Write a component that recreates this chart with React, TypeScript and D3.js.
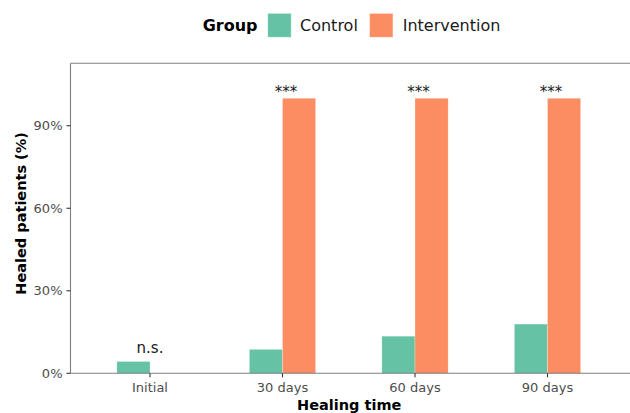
import React from "react";
import * as d3 from "d3";

// Healing data: share of healed patients per group at each time point
const categories = ["Initial", "30 days", "60 days", "90 days"];
const groups = ["Control", "Intervention"];
const controlValues = [4.3, 8.7, 13.5, 17.9];
const interventionValues = [0, 100, 100, 100];
const significanceLabels = ["n.s.", "***", "***", "***"];
const significanceY = [7.3, 100.6, 100.6, 100.6];
const yTicks = [0, 30, 60, 90];

const W = 630;
const H = 413;
const FONT = "'DejaVu Sans', sans-serif";
const colors: Record<string, string> = { Control: "#66C2A5", Intervention: "#FC8D62" };

export default function App() {
  const panel = { left: 70.5, right: 632, top: 63.3, bottom: 373.3 };

  const x = d3.scalePoint<string>().domain(categories).range([150, 547.5]);
  const step = x.step();
  const barW = step * 0.25;
  const y = d3.scaleLinear().domain([0, 112.7]).range([panel.bottom, panel.top]);

  const series = [controlValues, interventionValues];

  return (
    <div style={{ position: "fixed", left: 0, top: 0, width: W, height: H, overflow: "hidden" }}>
      <svg width={W} height={H} style={{ display: "block", background: "#fff" }} fontFamily={FONT}>
        {/* legend */}
        <g>
          <text x={202.7} y={31} fontSize={16} fontWeight="bold" fill="#000">Group</text>
          <rect x={267.7} y={13.3} width={23.5} height={24} fill={colors.Control} stroke="#fff" strokeOpacity={0.6} strokeWidth={0.8} />
          <text x={300} y={31} fontSize={16} fill="#1a1a1a">Control</text>
          <rect x={369.5} y={13.3} width={23.5} height={24} fill={colors.Intervention} stroke="#fff" strokeOpacity={0.6} strokeWidth={0.8} />
          <text x={402.7} y={31} fontSize={16} fill="#1a1a1a">Intervention</text>
        </g>

        {/* bars */}
        {categories.map((c, i) =>
          groups.map((g, j) => {
            const v = series[j][i];
            if (v <= 0) return null;
            const bx = (x(c) as number) - barW + j * barW;
            return (
              <rect
                key={c + g}
                x={bx}
                y={y(v)}
                width={barW}
                height={y(0) - y(v)}
                fill={colors[g]}
                stroke="#fff"
                strokeOpacity={0.5}
                strokeWidth={0.5}
              />
            );
          })
        )}

        {/* significance labels */}
        {categories.map((c, i) => (
          <text
            key={"sig" + c}
            x={(x(c) as number) + (i === 0 ? 0 : 3.5)}
            y={y(significanceY[i])}
            fontSize={15}
            textAnchor="middle"
            fill="#1a1a1a"
          >
            {significanceLabels[i]}
          </text>
        ))}

        {/* panel lines */}
        <line x1={panel.left} x2={panel.right} y1={panel.top} y2={panel.top} stroke="#7f7f7f" strokeWidth={1.1} />
        <line x1={panel.left} x2={panel.left} y1={panel.top} y2={panel.bottom} stroke="#7f7f7f" strokeWidth={1.1} />
        <line x1={panel.left} x2={panel.right} y1={panel.bottom} y2={panel.bottom} stroke="#7f7f7f" strokeWidth={1.1} />

        {/* y axis */}
        {yTicks.map((t) => (
          <g key={"y" + t}>
            <line x1={panel.left - 4} x2={panel.left} y1={y(t)} y2={y(t)} stroke="#333" strokeWidth={1.1} />
            <text x={panel.left - 8} y={y(t)} dy="0.36em" fontSize={13} textAnchor="end" fill="#4d4d4d">
              {t}%
            </text>
          </g>
        ))}

        {/* x axis */}
        {categories.map((c) => (
          <g key={"x" + c}>
            <line x1={x(c)} x2={x(c)} y1={panel.bottom} y2={panel.bottom + 4} stroke="#333" strokeWidth={1.1} />
            <text x={x(c)} y={391.5} fontSize={13} textAnchor="middle" fill="#4d4d4d">
              {c}
            </text>
          </g>
        ))}

        {/* axis titles */}
        <text x={349.2} y={409.5} fontSize={14.5} fontWeight="bold" textAnchor="middle" fill="#000">
          Healing time
        </text>
        <text
          transform={`translate(25.5, 213.4) rotate(-90)`}
          fontSize={14.5}
          fontWeight="bold"
          textAnchor="middle"
          fill="#000"
        >
          Healed patients (%)
        </text>
      </svg>
    </div>
  );
}
